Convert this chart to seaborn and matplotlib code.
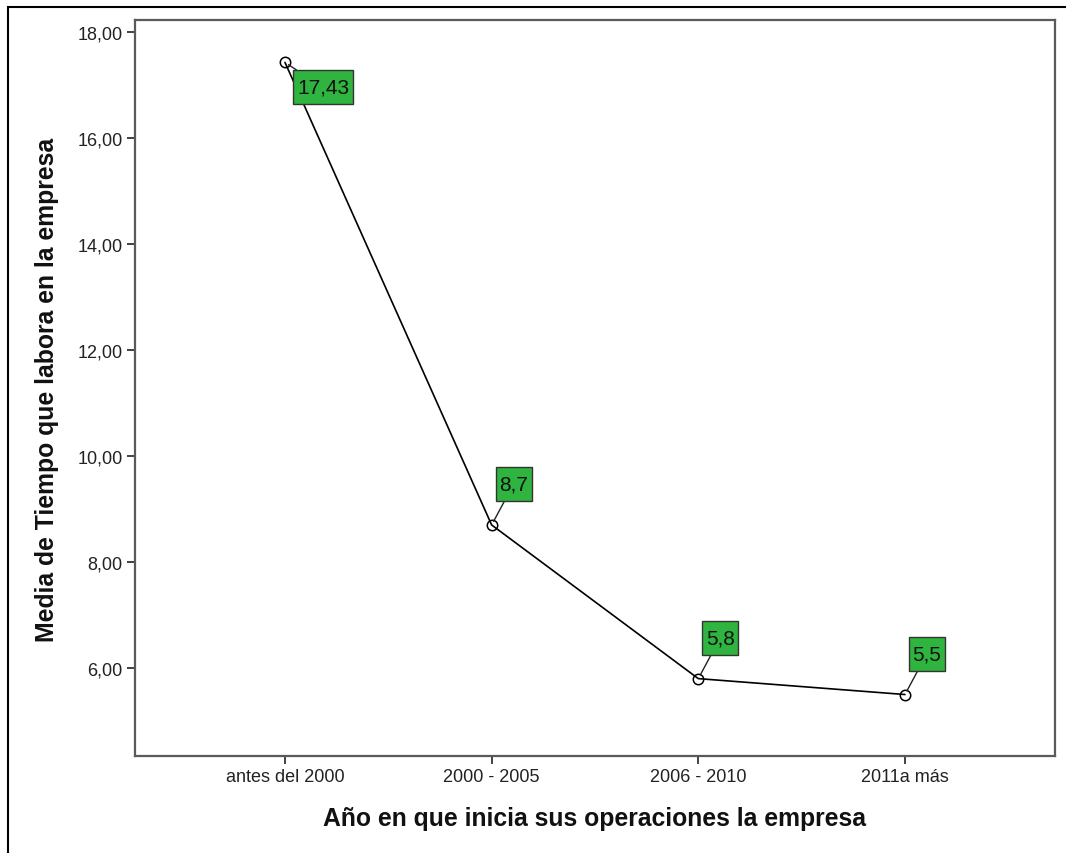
import matplotlib
matplotlib.use("Agg")
import matplotlib.pyplot as plt
from matplotlib.patches import Rectangle
from matplotlib.path import Path
from matplotlib.ticker import FuncFormatter
import seaborn as sns
import pandas as pd

# Mean time worked in the company, by the year the company started operating
categories = ["antes del 2000", "2000 - 2005", "2006 - 2010", "2011a más"]
mean_years = [17.43, 8.7, 5.8, 5.5]
y_ticks = [6, 8, 10, 12, 14, 16, 18]
x_title = "Año en que inicia sus operaciones la empresa"
y_title = "Media de Tiempo que labora en la empresa"

sns.set_theme(style="white")
plt.rcParams["font.family"] = ["Liberation Sans", "DejaVu Sans"]

df = pd.DataFrame({"periodo": categories, "media": mean_years})


def label_box(x0, y0, width, height, mutation_size):
    """Square box with less padding at the sides than above and below."""
    px, py = 0.17 * mutation_size, 0.36 * mutation_size
    x0, y0 = x0 - px, y0 - py
    x1, y1 = x0 + width + 2 * px, y0 + height + 2 * py
    return Path([(x0, y0), (x1, y0), (x1, y1), (x0, y1), (x0, y0)],
                closed=True)


fig = plt.figure(figsize=(10.66, 8.54), dpi=100)
ax = fig.add_axes([0.1266, 0.1136, 0.8631, 0.8618])

sns.lineplot(data=df, x="periodo", y="media", ax=ax, color="black",
             linewidth=1.2, marker="o", markersize=7.5,
             markerfacecolor="none", markeredgecolor="black",
             markeredgewidth=1.1, sort=False)

ax.set_xlim(-0.726, 3.726)
ax.set_ylim(4.34, 18.23)
ax.set_yticks(y_ticks)
ax.yaxis.set_major_formatter(FuncFormatter(lambda v, _: f"{v:.2f}".replace(".", ",")))

frame_color = "#5a5a5a"
for side in ax.spines.values():
    side.set_color(frame_color)
    side.set_linewidth(1.6)

ax.tick_params(axis="both", which="major", direction="out", length=6,
               width=1.3, color="#333333", labelsize=13, labelcolor="#222222",
               pad=3, left=True, bottom=True)

ax.set_xlabel(x_title, fontsize=17.8, fontweight="bold", color="#111111")
ax.set_ylabel(y_title, fontsize=17.8, fontweight="bold", color="#111111")
ax.xaxis.set_label_coords(0.499, -0.068)
ax.yaxis.set_label_coords(-0.0826, 0.4986)

# Value labels in green boxes, joined to their points by a short leader
offsets = [(38, -25), (22, 41), (22, 41), (22, 41)]
for i, (v, off) in enumerate(zip(mean_years, offsets)):
    label = f"{v:g}".replace(".", ",")
    ax.annotate(label, xy=(i, v), xytext=off, textcoords="offset pixels",
                ha="center", va="center", fontsize=15, color="#111111",
                bbox=dict(boxstyle=label_box, facecolor="#2fb43f",
                          edgecolor="#333333", linewidth=1.0),
                arrowprops=dict(arrowstyle="-", color="#222222", lw=1.0,
                                shrinkA=0, shrinkB=3))

# Outer frame around the whole chart
fig.patches.append(Rectangle((8 / 1066, -0.1), 1.2, 1 - 8 / 854 + 0.1,
                             transform=fig.transFigure, fill=False,
                             edgecolor="black", linewidth=1.5, zorder=0))

fig.savefig("out.png", dpi=100)
